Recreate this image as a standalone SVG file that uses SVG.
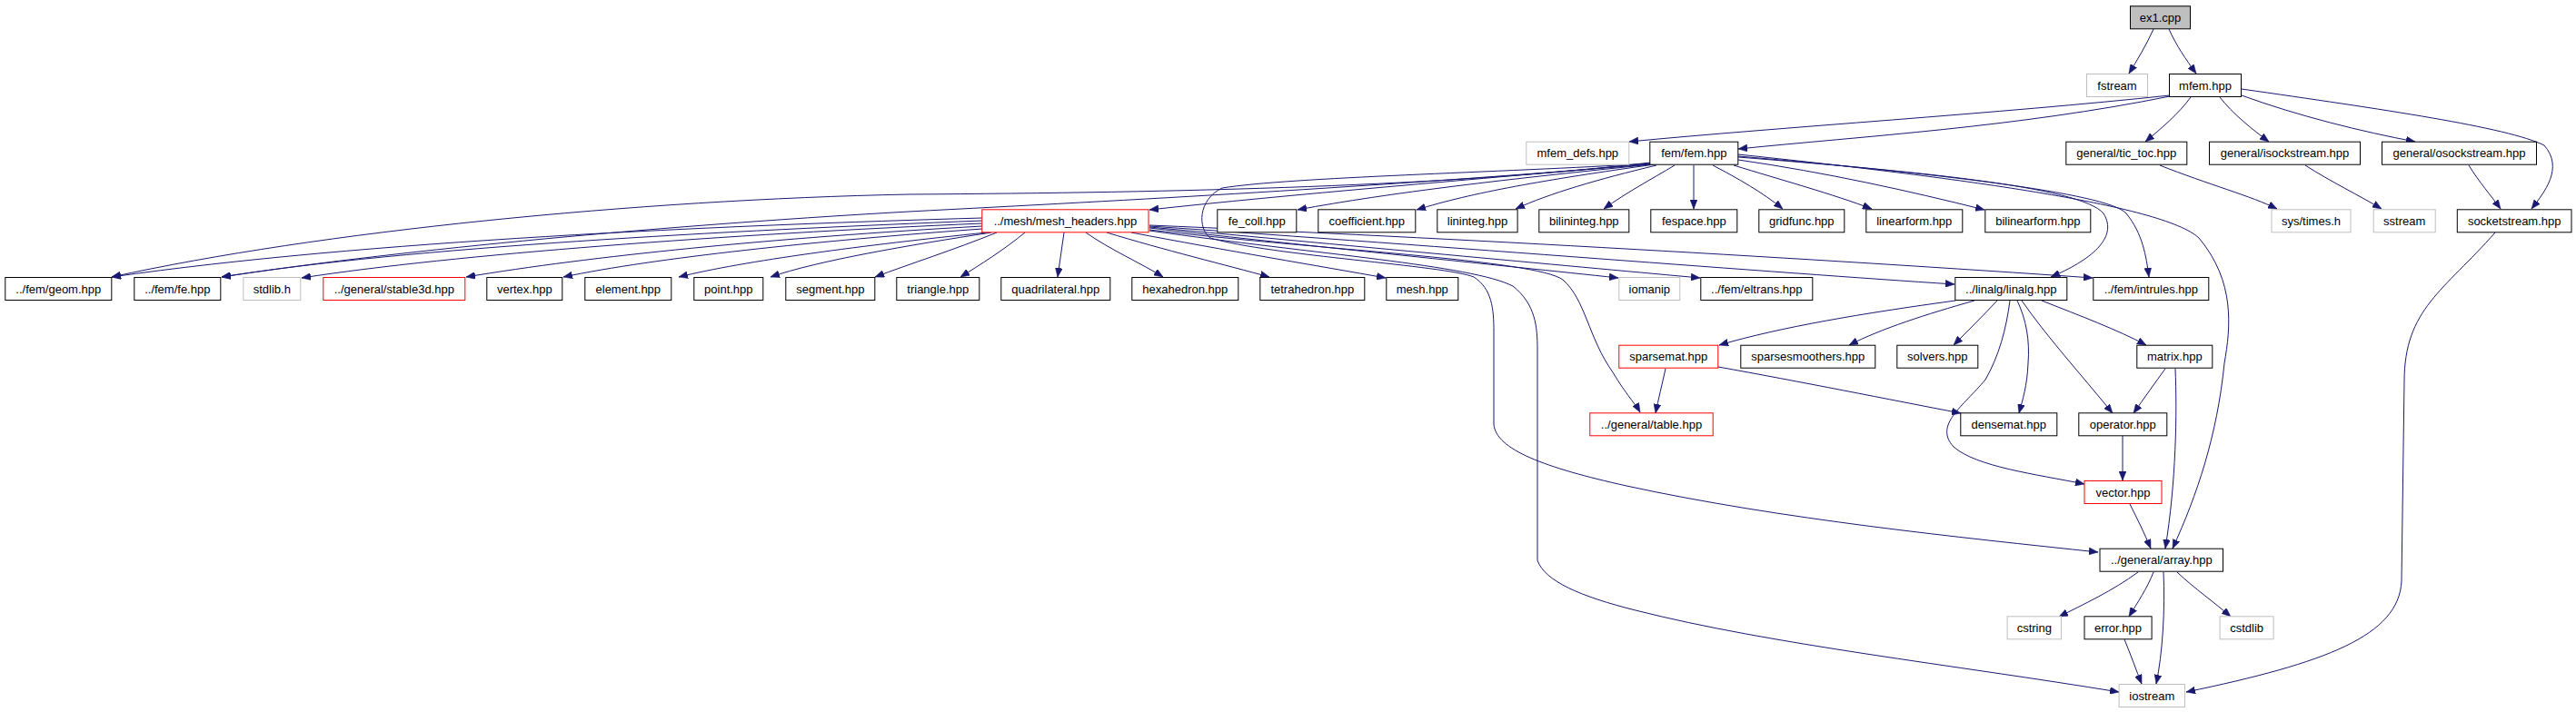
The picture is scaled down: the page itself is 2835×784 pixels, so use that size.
<svg xmlns="http://www.w3.org/2000/svg" width="2835" height="784" viewBox="0 0 2835 784">
<style>
.n rect{fill:#ffffff;stroke:#000000;stroke-width:1}
.n.g rect{stroke:#bfbfbf}
.n.r rect{stroke:#ff0000}
.n.root rect{fill:#bfbfbf}
.n text{font-family:"Liberation Sans",Arial,sans-serif;font-size:13px;fill:#000000;text-anchor:middle}
.e path{fill:none;stroke:#191970;stroke-width:1;marker-end:url(#arr)}
</style>
<defs>
<marker id="arr" markerUnits="userSpaceOnUse" markerWidth="10" markerHeight="8" refX="10" refY="4" orient="auto">
<path d="M0,0 L10,4 L0,8 z" fill="#191970" stroke="#191970" stroke-width="0.5"/>
</marker>
</defs>
<rect x="0" y="0" width="2835" height="784" fill="#ffffff"/>
<g id="edges" class="e">
<path d="M2370,32 C2362,50 2352,66 2343,81"/>
<path d="M2387,32 C2395,50 2406,66 2417,81"/>
<path d="M2388,106 C2220,140 2050,150 1913,164"/>
<path d="M2388,105 C2200,125 1960,140 1793,156"/>
<path d="M2411,107 C2398,125 2378,142 2361,156"/>
<path d="M2443,107 C2457,125 2478,142 2497,156"/>
<path d="M2467,105 C2530,128 2600,145 2658,156"/>
<path d="M2467,98 C2620,120 2760,140 2800,160 C2822,185 2800,212 2786,230"/>
<path d="M2377,182 C2430,203 2478,216 2506,230"/>
<path d="M2537,182 C2565,200 2598,216 2621,230"/>
<path d="M2717,182 C2728,200 2742,216 2752,230"/>
<path d="M2746,256 C2690,320 2646,340 2646,420 L2643,640 C2640,700 2560,730 2406,762"/>
<path d="M1816,180 C1620,198 1420,214 1265,231"/>
<path d="M1818,181 C1660,197 1530,212 1428,231"/>
<path d="M1821,181 C1700,198 1620,212 1559,231"/>
<path d="M1823,182 C1760,197 1705,213 1668,230"/>
<path d="M1843,182 C1818,197 1790,212 1765,230"/>
<path d="M1864,182 L1864,230"/>
<path d="M1885,182 C1912,196 1940,212 1962,230"/>
<path d="M1908,182 C1960,198 2018,214 2060,230"/>
<path d="M1913,176 C2010,190 2100,210 2184,231"/>
<path d="M1913,173 C2100,188 2290,205 2315,235 C2332,262 2300,287 2257,305"/>
<path d="M1913,172 C2120,190 2320,212 2340,235 C2358,257 2362,282 2365,305"/>
<path d="M1913,170 C2150,195 2380,225 2420,262 C2460,310 2455,360 2448,400 C2440,480 2418,545 2391,604"/>
<path d="M1816,179 C1600,205 1300,212 1000,214 C700,220 350,255 123,305"/>
<path d="M1816,181 C1500,207 1250,220 1000,233 C700,250 420,278 244,305"/>
<path d="M1816,180 C1650,190 1420,195 1345,207 C1318,220 1318,252 1332,262 C1400,282 1590,292 1622,305 C1642,318 1644,340 1644,365 L1644,467 C1646,495 1700,515 1790,535 C1960,572 2160,592 2309,608"/>
<path d="M1081,240 C800,248 400,265 123,305"/>
<path d="M1081,243 C800,254 450,272 244,305"/>
<path d="M1081,246 C800,258 500,280 332,306"/>
<path d="M1081,249 C850,262 650,282 513,305"/>
<path d="M1081,252 C900,265 720,284 620,305"/>
<path d="M1086,256 C950,270 820,287 747,305"/>
<path d="M1091,256 C1000,270 900,287 848,305"/>
<path d="M1097,256 C1050,275 1000,291 963,305"/>
<path d="M1128,256 C1105,275 1078,292 1057,305"/>
<path d="M1171,256 L1164,305"/>
<path d="M1195,256 C1220,274 1258,291 1280,305"/>
<path d="M1218,256 C1280,275 1350,292 1397,305"/>
<path d="M1245,256 C1350,276 1452,293 1525,306"/>
<path d="M1265,251 C1450,272 1650,292 1781,306"/>
<path d="M1265,250 C1500,272 1750,295 1871,306"/>
<path d="M1265,249 C1600,272 1950,300 2151,313"/>
<path d="M1265,248 C1600,262 2000,285 2303,306"/>
<path d="M1265,253 C1450,275 1690,286 1720,308 C1745,330 1748,372 1775,410 C1790,435 1800,445 1805,454"/>
<path d="M1265,254 C1450,280 1620,292 1665,315 C1690,335 1692,360 1692,385 L1692,617 C1700,640 1740,657 1800,672 C1950,710 2150,732 2332,762"/>
<path d="M2152,331 C2050,345 1960,360 1892,380"/>
<path d="M2173,331 C2120,346 2070,362 2035,380"/>
<path d="M2198,331 C2182,348 2166,364 2150,380"/>
<path d="M2247,331 C2290,348 2330,363 2362,380"/>
<path d="M2220,331 C2230,352 2234,375 2232,400 C2231,425 2226,440 2222,455"/>
<path d="M2225,331 C2252,370 2290,412 2325,455"/>
<path d="M2212,331 C2208,362 2200,392 2185,418 C2160,448 2128,468 2150,492 C2175,514 2240,522 2294,533"/>
<path d="M1833,406 C1829,424 1825,440 1822,455"/>
<path d="M1891,404 C1980,420 2080,440 2158,455"/>
<path d="M2383,406 C2372,421 2360,438 2348,455"/>
<path d="M2394,406 C2396,455 2395,530 2383,604"/>
<path d="M2336,480 L2336,529"/>
<path d="M2344,555 C2352,571 2360,587 2367,604"/>
<path d="M2353,630 C2326,650 2292,666 2266,679"/>
<path d="M2370,630 C2363,648 2352,664 2343,679"/>
<path d="M2396,630 C2415,648 2438,664 2455,679"/>
<path d="M2381,630 C2383,670 2380,720 2373,753"/>
<path d="M2338,704 C2345,721 2351,738 2357,753"/>
</g>
<g id="n_ex1" class="n root"><rect x="2344.5" y="6.8" width="66" height="25"/><text x="2377.5" y="23.8">ex1.cpp</text></g>
<g id="n_fstream" class="n g"><rect x="2296.5" y="81.5" width="67" height="25"/><text x="2330" y="98.5">fstream</text></g>
<g id="n_mfem" class="n"><rect x="2387.5" y="81.5" width="79" height="25"/><text x="2427" y="98.5">mfem.hpp</text></g>
<g id="n_mfem_defs" class="n g"><rect x="1679.8" y="156.2" width="113" height="25"/><text x="1736.3" y="173.2">mfem_defs.hpp</text></g>
<g id="n_fem" class="n"><rect x="1815.8" y="156.2" width="97" height="25"/><text x="1864.3" y="173.2">fem/fem.hpp</text></g>
<g id="n_tic_toc" class="n"><rect x="2273.8" y="156.2" width="133" height="25"/><text x="2340.3" y="173.2">general/tic_toc.hpp</text></g>
<g id="n_isockstream" class="n"><rect x="2431.5" y="156.2" width="166" height="25"/><text x="2514.5" y="173.2">general/isockstream.hpp</text></g>
<g id="n_osockstream" class="n"><rect x="2621.5" y="156.2" width="170" height="25"/><text x="2706.5" y="173.2">general/osockstream.hpp</text></g>
<g id="n_mesh_headers" class="n r"><rect x="1080.8" y="230.8" width="183.2" height="25"/><text x="1172.4" y="247.8">../mesh/mesh_headers.hpp</text></g>
<g id="n_fe_coll" class="n"><rect x="1339.8" y="230.8" width="87" height="25"/><text x="1383.3" y="247.8">fe_coll.hpp</text></g>
<g id="n_coefficient" class="n"><rect x="1450.8" y="230.8" width="107" height="25"/><text x="1504.3" y="247.8">coefficient.hpp</text></g>
<g id="n_lininteg" class="n"><rect x="1581.8" y="230.8" width="88.3" height="25"/><text x="1626" y="247.8">lininteg.hpp</text></g>
<g id="n_bilininteg" class="n"><rect x="1693.8" y="230.8" width="99" height="25"/><text x="1743.3" y="247.8">bilininteg.hpp</text></g>
<g id="n_fespace" class="n"><rect x="1816.8" y="230.8" width="95" height="25"/><text x="1864.3" y="247.8">fespace.hpp</text></g>
<g id="n_gridfunc" class="n"><rect x="1935.8" y="230.8" width="94" height="25"/><text x="1982.8" y="247.8">gridfunc.hpp</text></g>
<g id="n_linearform" class="n"><rect x="2053.8" y="230.8" width="106" height="25"/><text x="2106.8" y="247.8">linearform.hpp</text></g>
<g id="n_bilinearform" class="n"><rect x="2184.8" y="230.8" width="116" height="25"/><text x="2242.8" y="247.8">bilinearform.hpp</text></g>
<g id="n_times" class="n g"><rect x="2500" y="230.8" width="87" height="25"/><text x="2543.5" y="247.8">sys/times.h</text></g>
<g id="n_sstream" class="n g"><rect x="2612.2" y="230.8" width="68" height="25"/><text x="2646.2" y="247.8">sstream</text></g>
<g id="n_socketstream" class="n"><rect x="2704.3" y="230.8" width="125.7" height="25"/><text x="2767.2" y="247.8">socketstream.hpp</text></g>
<g id="n_geom" class="n"><rect x="5.8" y="305.5" width="117" height="25"/><text x="64.3" y="322.5">../fem/geom.hpp</text></g>
<g id="n_fe" class="n"><rect x="147.8" y="305.5" width="95" height="25"/><text x="195.3" y="322.5">../fem/fe.hpp</text></g>
<g id="n_stdlib" class="n g"><rect x="267.8" y="305.5" width="63" height="25"/><text x="299.3" y="322.5">stdlib.h</text></g>
<g id="n_stable3d" class="n r"><rect x="355.8" y="305.5" width="156" height="25"/><text x="433.8" y="322.5">../general/stable3d.hpp</text></g>
<g id="n_vertex" class="n"><rect x="535.8" y="305.5" width="83" height="25"/><text x="577.3" y="322.5">vertex.hpp</text></g>
<g id="n_element" class="n"><rect x="643.8" y="305.5" width="95" height="25"/><text x="691.3" y="322.5">element.hpp</text></g>
<g id="n_point" class="n"><rect x="763.8" y="305.5" width="76" height="25"/><text x="801.8" y="322.5">point.hpp</text></g>
<g id="n_segment" class="n"><rect x="864.8" y="305.5" width="98" height="25"/><text x="913.8" y="322.5">segment.hpp</text></g>
<g id="n_triangle" class="n"><rect x="986.8" y="305.5" width="91" height="25"/><text x="1032.3" y="322.5">triangle.hpp</text></g>
<g id="n_quadrilateral" class="n"><rect x="1101.8" y="305.5" width="120" height="25"/><text x="1161.8" y="322.5">quadrilateral.hpp</text></g>
<g id="n_hexahedron" class="n"><rect x="1245.8" y="305.5" width="117" height="25"/><text x="1304.3" y="322.5">hexahedron.hpp</text></g>
<g id="n_tetrahedron" class="n"><rect x="1386.8" y="305.5" width="115" height="25"/><text x="1444.3" y="322.5">tetrahedron.hpp</text></g>
<g id="n_mesh" class="n"><rect x="1525.8" y="305.5" width="79" height="25"/><text x="1565.3" y="322.5">mesh.hpp</text></g>
<g id="n_iomanip" class="n g"><rect x="1781.8" y="305.5" width="67" height="25"/><text x="1815.3" y="322.5">iomanip</text></g>
<g id="n_eltrans" class="n"><rect x="1871.8" y="305.5" width="123" height="25"/><text x="1933.3" y="322.5">../fem/eltrans.hpp</text></g>
<g id="n_linalg" class="n"><rect x="2151.8" y="305.5" width="123" height="25"/><text x="2213.3" y="322.5">../linalg/linalg.hpp</text></g>
<g id="n_intrules" class="n"><rect x="2303.8" y="305.5" width="127" height="25"/><text x="2367.3" y="322.5">../fem/intrules.hpp</text></g>
<g id="n_sparsemat" class="n r"><rect x="1781.8" y="380.2" width="109" height="25"/><text x="1836.3" y="397.2">sparsemat.hpp</text></g>
<g id="n_sparsesmoothers" class="n"><rect x="1915.8" y="380.2" width="148" height="25"/><text x="1989.8" y="397.2">sparsesmoothers.hpp</text></g>
<g id="n_solvers" class="n"><rect x="2087.8" y="380.2" width="89" height="25"/><text x="2132.3" y="397.2">solvers.hpp</text></g>
<g id="n_matrix" class="n"><rect x="2351.8" y="380.2" width="83" height="25"/><text x="2393.3" y="397.2">matrix.hpp</text></g>
<g id="n_table" class="n r"><rect x="1749.8" y="454.8" width="135.4" height="25"/><text x="1817.5" y="471.8">../general/table.hpp</text></g>
<g id="n_densemat" class="n"><rect x="2157.8" y="454.8" width="106" height="25"/><text x="2210.8" y="471.8">densemat.hpp</text></g>
<g id="n_operator" class="n"><rect x="2287.8" y="454.8" width="97" height="25"/><text x="2336.3" y="471.8">operator.hpp</text></g>
<g id="n_vector" class="n r"><rect x="2294" y="529.5" width="85" height="25"/><text x="2336.5" y="546.5">vector.hpp</text></g>
<g id="n_array" class="n"><rect x="2311" y="604.2" width="135.5" height="25"/><text x="2378.8" y="621.2">../general/array.hpp</text></g>
<g id="n_cstring" class="n g"><rect x="2209.1" y="678.8" width="59.4" height="25"/><text x="2238.8" y="695.8">cstring</text></g>
<g id="n_error" class="n"><rect x="2294" y="678.8" width="74.1" height="25"/><text x="2331" y="695.8">error.hpp</text></g>
<g id="n_cstdlib" class="n g"><rect x="2443.1" y="678.8" width="59" height="25"/><text x="2472.6" y="695.8">cstdlib</text></g>
<g id="n_iostream" class="n g"><rect x="2332.1" y="753.5" width="72.4" height="25"/><text x="2368.3" y="770.5">iostream</text></g>
</svg>
